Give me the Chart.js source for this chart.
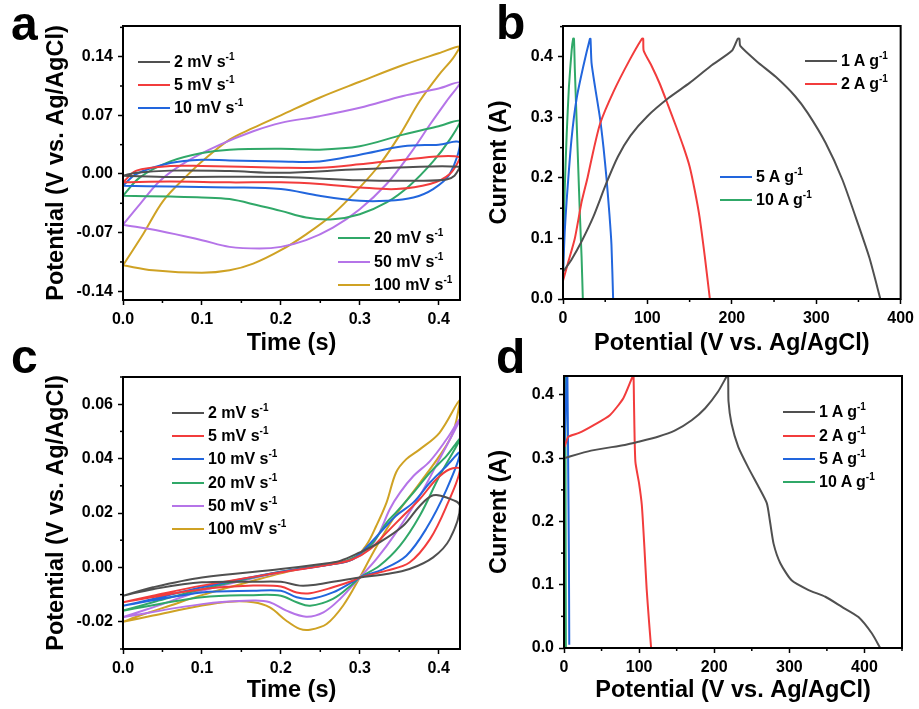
<!DOCTYPE html>
<html>
<head>
<meta charset="utf-8">
<script src="https://cdn.jsdelivr.net/npm/chart.js@4"></script>
<style>
  html, body { margin: 0; padding: 0; background: #fff; }
  body { width: 919px; height: 709px; position: relative; overflow: hidden; font-family: "Liberation Sans", Arial, sans-serif; }
  canvas { position: absolute; }
  .letter { position: absolute; font-weight: bold; font-size: 48px; line-height: 48px; color: #000; }
  .legend { position: absolute; font-weight: bold; font-size: 16px; color: #000; }
  .legend .row { position: absolute; left: 0; height: 20px; line-height: 20px; white-space: nowrap; }
  .legend .swatch { position: absolute; left: 0; top: 9px; width: 32px; height: 2px; }
  .legend .txt { position: absolute; left: 36px; top: 0; }
  .legend sup { font-size: 10px; vertical-align: 0; position: relative; top: -7px; }
</style>
</head>
<body>
<canvas id="chartA" width="465" height="355" style="left:0;top:0"></canvas>
<canvas id="chartB" width="459" height="355" style="left:460px;top:0"></canvas>
<canvas id="chartC" width="465" height="354" style="left:0;top:355px"></canvas>
<canvas id="chartD" width="459" height="354" style="left:460px;top:355px"></canvas>
<div class="letter" style="left:11px;top:0">a</div>
<div class="letter" style="left:496px;top:-1px">b</div>
<div class="letter" style="left:11px;top:333px">c</div>
<div class="letter" style="left:496px;top:333px">d</div>
<script>
// ---- data ----
const SCAN_LABELS = ['2 mV s', '5 mV s', '10 mV s', '20 mV s', '50 mV s', '100 mV s'];
const CURRENT_LABELS = ['1 A g', '2 A g', '5 A g', '10 A g'];
const COLORS = ['#505050', '#f23c3c', '#2266dd', '#30a868', '#b574e8', '#cfa224'];

// panel a: each loop = forward branch then return branch
const A_2 = [[0,-0.002],[0.06,-0.0035],[0.2,-0.0035],[0.3,-0.0075],[0.376,-0.008],[0.41,-0.0065],[0.42,-0.002],[0.427,0.0087],
  [0.3,0.0055],[0.2,0.0015],[0.135,0.0035],[0.06,0.004],[0.017,0.0015],[0,-0.002]];
const A_5 = [[0,-0.010],[0.06,-0.009],[0.135,-0.010],[0.2,-0.010],[0.249,-0.012],[0.3,-0.016],[0.346,-0.018],[0.389,-0.012],[0.414,0.0],[0.427,0.020],
  [0.355,0.017],[0.3,0.0115],[0.249,0.0075],[0.2,0.0075],[0.1,0.0095],[0.06,0.0095],[0.017,0.004],[0,-0.010]];
const A_10 = [[0,-0.014],[0.06,-0.015],[0.135,-0.016],[0.2,-0.018],[0.249,-0.026],[0.3,-0.032],[0.334,-0.032],[0.368,-0.028],[0.393,-0.018],[0.414,0.0],[0.427,0.037],
  [0.4,0.035],[0.355,0.033],[0.3,0.023],[0.249,0.015],[0.2,0.015],[0.135,0.016],[0.1,0.017],[0.06,0.013],[0.017,0.0],[0,-0.014]];
const A_20 = [[0,-0.026],[0.06,-0.027],[0.1,-0.028],[0.135,-0.030],[0.173,-0.038],[0.2,-0.044],[0.232,-0.052],[0.266,-0.054],[0.3,-0.048],[0.334,-0.034],[0.363,-0.014],[0.393,0.015],[0.414,0.041],[0.427,0.063],
  [0.4,0.057],[0.355,0.047],[0.3,0.033],[0.249,0.029],[0.2,0.030],[0.135,0.029],[0.1,0.025],[0.06,0.015],[0.0215,-0.004],[0,-0.026]];
const A_50 = [[0,-0.0605],[0.047,-0.068],[0.1,-0.079],[0.135,-0.087],[0.173,-0.089],[0.2,-0.087],[0.232,-0.079],[0.266,-0.064],[0.3,-0.042],[0.334,-0.012],[0.363,0.023],[0.389,0.059],[0.41,0.087],[0.427,0.109],
  [0.4,0.102],[0.355,0.093],[0.3,0.079],[0.249,0.069],[0.2,0.061],[0.165,0.051],[0.123,0.035],[0.081,0.015],[0.047,-0.008],[0.0215,-0.036],[0,-0.0605]];
const A_100 = [[0,-0.109],[0.038,-0.115],[0.1,-0.118],[0.135,-0.115],[0.165,-0.107],[0.2,-0.091],[0.232,-0.072],[0.266,-0.048],[0.3,-0.016],[0.325,0.011],[0.351,0.047],[0.376,0.087],[0.4,0.118],[0.418,0.138],[0.427,0.152],
  [0.4,0.144],[0.355,0.130],[0.3,0.110],[0.249,0.091],[0.2,0.070],[0.165,0.055],[0.135,0.041],[0.1,0.015],[0.081,-0.002],[0.051,-0.032],[0.026,-0.071],[0,-0.109]];

// panel b: charge / discharge
const B_1 = [[0,0.045],[10,0.065],[22,0.095],[36,0.136],[51,0.19],[65,0.235],[80,0.27],[100,0.302],[125,0.332],[150,0.357],[175,0.385],[200,0.41],[207,0.43],[209,0.43],[210,0.418],
  [230,0.392],[252,0.367],[275,0.335],[290,0.307],[311,0.258],[331,0.197],[350,0.122],[363,0.068],[376,0.0]];
const B_2 = [[0,0.03],[6,0.06],[14,0.1],[22,0.16],[29,0.2],[36,0.245],[44,0.29],[60,0.343],[79,0.395],[93.5,0.43],[95,0.43],[95.6,0.41],
  [105,0.385],[114.5,0.356],[124,0.322],[134,0.285],[143,0.25],[150,0.219],[156,0.18],[161.7,0.136],[168,0.07],[174,0.0]];
const B_5 = [[0,0.03],[0.4,0.053],[2,0.11],[4.4,0.164],[10,0.263],[16,0.33],[24,0.384],[31.9,0.43],[32.6,0.43],[33.8,0.39],
  [38,0.35],[43.7,0.3],[48,0.25],[51.5,0.2],[55,0.14],[57.4,0.09],[59.4,0.0]];
const B_10 = [[0,0.03],[0.4,0.08],[2,0.18],[4.4,0.273],[7,0.35],[10.2,0.41],[12,0.43],[13,0.43],[14,0.38],[16,0.3],[18,0.219],[20,0.14],[22,0.07],[23.5,0.0]];

// panel c
const C_2 = [[0,-0.0104],[0.038,-0.008],[0.1,-0.0055],[0.165,-0.0053],[0.2,-0.0053],[0.224,-0.0067],[0.241,-0.0065],[0.266,-0.0053],[0.3,-0.0037],[0.334,-0.0024],[0.363,-0.0006],[0.393,0.0037],[0.414,0.0104],[0.427,0.0226],
  [0.41,0.0257],[0.393,0.0265],[0.376,0.0226],[0.355,0.0153],[0.325,0.0092],[0.3,0.0055],[0.275,0.0024],[0.249,0.0012],[0.2,-0.0006],[0.1,-0.0037],[0.038,-0.0073],[0,-0.0104]];
const C_5 = [[0,-0.0128],[0.1,-0.008],[0.165,-0.0067],[0.2,-0.007],[0.22,-0.0092],[0.237,-0.0095],[0.266,-0.0073],[0.291,-0.0049],[0.3,-0.0037],[0.334,-0.0012],[0.363,0.0018],[0.389,0.0104],[0.41,0.0226],[0.427,0.0361],
  [0.414,0.0361],[0.397,0.0324],[0.376,0.0251],[0.355,0.019],[0.334,0.0128],[0.313,0.0067],[0.291,0.003],[0.266,0.0012],[0.2,-0.0018],[0.1,-0.0067],[0.038,-0.0104],[0,-0.0128]];
const C_10 = [[0,-0.0141],[0.1,-0.0092],[0.165,-0.0086],[0.2,-0.0086],[0.22,-0.011],[0.237,-0.0116],[0.266,-0.0092],[0.291,-0.0053],[0.3,-0.0037],[0.33,-0.0006],[0.359,0.0043],[0.384,0.0141],[0.41,0.0287],[0.427,0.0422],
  [0.41,0.0373],[0.389,0.0312],[0.368,0.0239],[0.346,0.019],[0.33,0.0141],[0.308,0.0073],[0.291,0.003],[0.266,0.0012],[0.2,-0.0016],[0.1,-0.0073],[0.038,-0.0116],[0,-0.0141]];
const C_20 = [[0,-0.0159],[0.1,-0.011],[0.165,-0.0102],[0.2,-0.0104],[0.22,-0.0128],[0.237,-0.0141],[0.266,-0.0116],[0.291,-0.0061],[0.3,-0.0037],[0.325,0.0006],[0.351,0.008],[0.376,0.019],[0.401,0.0336],[0.427,0.0471],
  [0.41,0.041],[0.389,0.0349],[0.368,0.0275],[0.346,0.0202],[0.334,0.0165],[0.317,0.0092],[0.3,0.0049],[0.275,0.0018],[0.2,-0.0016],[0.1,-0.008],[0.038,-0.0128],[0,-0.0159]];
const C_50 = [[0,-0.0183],[0.1,-0.0135],[0.165,-0.0122],[0.186,-0.0128],[0.207,-0.0159],[0.232,-0.0181],[0.254,-0.0165],[0.275,-0.0116],[0.3,-0.0037],[0.321,0.003],[0.346,0.0128],[0.376,0.0263],[0.401,0.0398],[0.427,0.0544],
  [0.41,0.0471],[0.389,0.0391],[0.368,0.0336],[0.351,0.0275],[0.338,0.0214],[0.325,0.0128],[0.313,0.0073],[0.296,0.0037],[0.266,0.0012],[0.2,-0.0018],[0.1,-0.0086],[0.038,-0.0147],[0,-0.0183]];
const C_100 = [[0,-0.020],[0.038,-0.0177],[0.1,-0.014],[0.135,-0.0126],[0.165,-0.0128],[0.186,-0.0147],[0.207,-0.0196],[0.224,-0.0226],[0.237,-0.0229],[0.258,-0.0208],[0.279,-0.014],[0.3,-0.0037],[0.317,0.0055],[0.342,0.0177],[0.376,0.031],[0.401,0.041],[0.418,0.0495],[0.427,0.0615],
  [0.401,0.0495],[0.376,0.0434],[0.359,0.0398],[0.346,0.0349],[0.334,0.0239],[0.321,0.0153],[0.308,0.008],[0.291,0.003],[0.266,0.0012],[0.232,0.0],[0.2,-0.0022],[0.165,-0.0049],[0.135,-0.0073],[0.1,-0.0102],[0.06,-0.014],[0.0215,-0.0177],[0,-0.020]];

// panel d
const D_1 = [[0,0.30],[36,0.312],[81,0.321],[99,0.326],[125,0.334],[148,0.344],[170,0.36],[188,0.379],[205,0.405],[217,0.43],[218.5,0.43],
  [219,0.39],[223,0.355],[232,0.318],[245,0.286],[259,0.255],[270,0.229],[274,0.202],[279,0.165],[288,0.134],[303,0.107],[325,0.092],[348,0.081],[370,0.065],[392,0.049],[410,0.023],[421,0.0]];
const D_2 = [[0,0.32],[1,0.319],[5.8,0.334],[20,0.34],[39,0.352],[61,0.368],[79,0.395],[91.6,0.43],[92.6,0.43],
  [93.2,0.387],[95,0.295],[100,0.26],[103.6,0.226],[107,0.16],[110,0.094],[113,0.045],[116,0.0]];
const D_5 = [[0,0.3],[2,0.36],[3.5,0.43],[4.5,0.43],[5.5,0.3],[6.5,0.15],[7,0.005]];
const D_10 = [[0,0.3],[0.8,0.38],[1.5,0.43],[2,0.3],[2.3,0.1],[2.5,0.0]];

// axis ticks
const A_X_TICKS = [0, 0.1, 0.2, 0.3, 0.4];
const A_Y_TICKS = [-0.14, -0.07, 0, 0.07, 0.14];
const B_X_TICKS = [0, 100, 200, 300, 400];
const B_Y_TICKS = [0, 0.1, 0.2, 0.3, 0.4];
const C_X_TICKS = [0, 0.1, 0.2, 0.3, 0.4];
const C_Y_TICKS = [-0.02, 0, 0.02, 0.04, 0.06];
const D_X_TICKS = [0, 100, 200, 300, 400];
const D_Y_TICKS = [0, 0.1, 0.2, 0.3, 0.4];

const FONT = '"Liberation Sans", Arial, sans-serif';
const TICK_FONT = { family: FONT, size: 16, weight: 'bold' };
const TITLE_FONT = { family: FONT, size: 23.5, weight: 'bold', lineHeight: 1 };

// box frame + short minor ticks between labelled ones
const frame = {
  id: 'frame',
  afterDatasetsDraw(chart) {
    const { ctx, chartArea: a } = chart;
    ctx.save();
    ctx.strokeStyle = '#000';
    ctx.lineWidth = 1.5;
    for (const s of [chart.scales.x, chart.scales.y]) {
      const step = s.ticks[1].value - s.ticks[0].value;
      for (let v = s.ticks[0].value - step / 2; v <= s.max + 1e-9; v += step) {
        if (v < s.min - 1e-9) continue;
        const p = s.getPixelForValue(v);
        ctx.beginPath();
        if (s.isHorizontal()) { ctx.moveTo(p, a.bottom); ctx.lineTo(p, a.bottom + 3); }
        else { ctx.moveTo(a.left, p); ctx.lineTo(a.left - 3, p); }
        ctx.stroke();
      }
    }
    ctx.lineWidth = 2;
    ctx.strokeRect(a.left, a.top, a.right - a.left, a.bottom - a.top);
    ctx.restore();
  }
};

function axis(min, max, ticks, digits, title, size, titlePad) {
  return {
    type: 'linear', min, max,
    afterBuildTicks: s => { s.ticks = ticks.map(v => ({ value: v })); },
    afterFit: s => { if (s.isHorizontal()) s.height = size; else s.width = size; },
    grid: { drawOnChartArea: false, drawTicks: true, tickLength: 5, tickWidth: 1.5, tickColor: '#000' },
    border: { display: false },
    ticks: { padding: 5, color: '#000', font: TICK_FONT, maxRotation: 0, autoSkip: false,
             callback: v => Number(v).toFixed(digits) },
    title: { display: true, text: title, color: '#000', font: TITLE_FONT, padding: titlePad }
  };
}

function makeChart(id, series, colors, tension, pad, xAxis, yAxis) {
  return new Chart(document.getElementById(id), {
    type: 'scatter',
    data: {
      datasets: series.map((pts, i) => ({
        data: pts.map(p => ({ x: p[0], y: p[1] })),
        showLine: true, borderColor: colors[i], borderWidth: 2,
        pointRadius: 0, tension: tension, fill: false
      }))
    },
    options: {
      responsive: false, animation: false,
      layout: { padding: pad },
      plugins: { legend: { display: false }, tooltip: { enabled: false } },
      scales: { x: xAxis, y: yAxis }
    },
    plugins: [frame]
  });
}

const POT = 'Potential (V vs. Ag/AgCl)';

makeChart('chartA', [A_2, A_5, A_10, A_20, A_50, A_100], COLORS, 0.35,
  { left: 0, top: 26, right: 5, bottom: 0 },
  axis(0, 0.427, A_X_TICKS, 1, 'Time (s)', 55, { top: 0, bottom: 0 }),
  axis(-0.1504, 0.1766, A_Y_TICKS, 2, POT, 123, { top: 45, bottom: 0 }));

makeChart('chartB', [B_1, B_2, B_5, B_10], COLORS, 0.2,
  { left: 0, top: 26, right: 17, bottom: 0 },
  axis(0, 400, B_X_TICKS, 0, POT, 56, { top: 0, bottom: 0 }),
  axis(0, 0.451, B_Y_TICKS, 1, 'Current (A)', 103, { top: 28, bottom: 0 }));

makeChart('chartC', [C_2, C_5, C_10, C_20, C_50, C_100], COLORS, 0.35,
  { left: 0, top: 22, right: 5, bottom: 0 },
  axis(0, 0.427, C_X_TICKS, 1, 'Time (s)', 60, { top: 0, bottom: 7 }),
  axis(-0.03, 0.07, C_Y_TICKS, 2, POT, 123, { top: 45, bottom: 0 }));

makeChart('chartD', [D_1, D_2, D_5, D_10], COLORS, 0.2,
  { left: 0, top: 21, right: 17, bottom: 0 },
  axis(0, 450, D_X_TICKS, 0, POT, 61, { top: 0, bottom: 7 }),
  axis(0, 0.43, D_Y_TICKS, 1, 'Current (A)', 104, { top: 28, bottom: 0 }));

// legends (HTML so the "-1" exponent can be raised)
function legend(left, rows, labels, colorIdx) {
  const box = document.createElement('div');
  box.className = 'legend';
  box.style.left = left + 'px';
  box.style.top = '0px';
  labels.forEach((lab, i) => {
    const row = document.createElement('div');
    row.className = 'row';
    row.style.top = (rows[i] - 10) + 'px';
    row.innerHTML = '<span class="swatch" style="background:' + COLORS[colorIdx[i]] + '"></span>' +
      '<span class="txt">' + lab + '<sup>-1</sup></span>';
    box.appendChild(row);
  });
  document.body.appendChild(box);
}

legend(138, [62, 85, 108], SCAN_LABELS.slice(0, 3), [0, 1, 2]);
legend(338, [238, 262, 285], SCAN_LABELS.slice(3), [3, 4, 5]);
legend(805, [61, 84], CURRENT_LABELS.slice(0, 2), [0, 1]);
legend(720, [177, 200], CURRENT_LABELS.slice(2), [2, 3]);
legend(172, [413, 436, 459, 483, 506, 529], SCAN_LABELS, [0, 1, 2, 3, 4, 5]);
legend(783, [412, 436, 459, 482], CURRENT_LABELS, [0, 1, 2, 3]);
</script>
</body>
</html>
